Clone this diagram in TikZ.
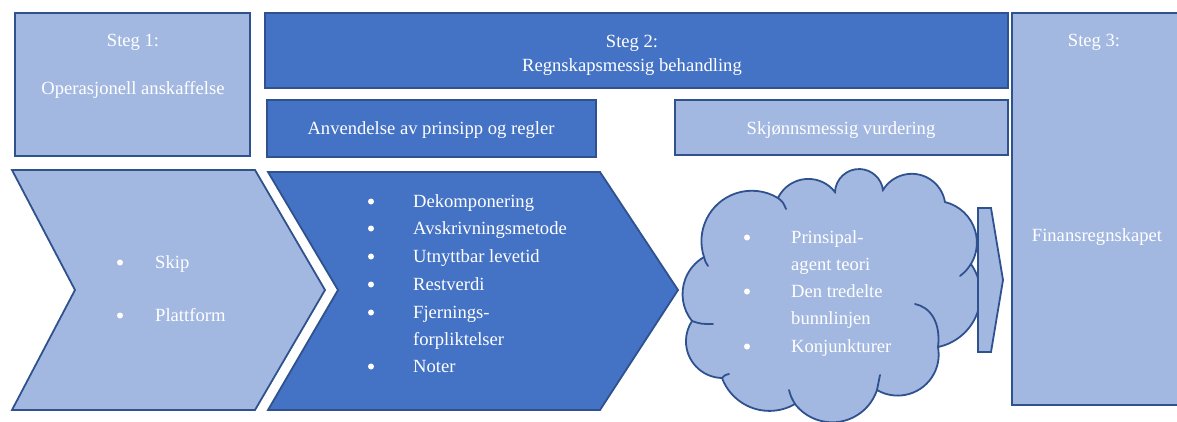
\documentclass[tikz,border=0pt]{standalone}
\usepackage{fontspec}
\setmainfont{Liberation Serif}
\definecolor{darkfill}{HTML}{4472C4}
\definecolor{lightfill}{HTML}{A2B8E1}
\definecolor{edgecol}{HTML}{2F528F}
\begin{document}
\begin{tikzpicture}[x=1pt,y=-1pt,
  lbl/.style={text=white,font=\fontsize{18.6}{24}\selectfont,inner sep=0pt},
  dot/.style={circle,fill=white,inner sep=0pt,minimum size=6pt},
  darkbox/.style={fill=darkfill,draw=edgecol,line width=1.8pt},
  lightbox/.style={fill=lightfill,draw=edgecol,line width=1.8pt},
  tail/.style={draw=edgecol,line width=1.8pt,line cap=round}]
\useasboundingbox (0,0) rectangle (1177,421);
% boxes
\draw[lightbox] (15,13) rectangle (250,156);
\draw[darkbox] (265,13) rectangle (1008,88);
\draw[darkbox] (267,100) rectangle (596,157);
\draw[lightbox] (675,100) rectangle (1008,155);
\draw[lightbox] (1012,13) rectangle (1185,405);
% chevrons
\draw[lightbox,line join=miter] (12,170) -- (255,170) -- (325,290) -- (255,410) -- (12,410) -- (75,290) -- cycle;
\draw[darkbox,line join=miter] (268,172) -- (600,172) -- (678,290) -- (600,410) -- (268,410) -- (338,290) -- cycle;
% cloud: circular puffs between junction points (ax/ay -> bx/by, bulge h)
\foreach \ax/\ay/\bx/\by/\h/\n in {
  704/257/778/198/33/A, 778/198/835/192/16/B, 835/192/883/190/22/C,
  883/190/945/202/22/D, 945/202/971/264/17/E, 971/264/938/347/24/F,
  938/347/877/390/24/G, 877/390/795/404/25/H, 795/404/722/378/18/I,
  722/378/692/321/19/K, 692/321/704/257/15/L}{
  \pgfmathsetmacro\ddx{\bx-\ax}
  \pgfmathsetmacro\ddy{\by-\ay}
  \pgfmathsetmacro\hc{veclen(\ddx,\ddy)/2}
  \pgfmathsetmacro\rr{(\hc*\hc+\h*\h)/(2*\h)}
  \pgfmathsetmacro\tn{atan2(-\ddx,\ddy)}
  \pgfmathsetmacro\ps{acos((\rr-\h)/\rr)}
  \pgfmathsetmacro\sa{\tn-\ps}
  \pgfmathsetmacro\ea{\tn+\ps}
  \expandafter\xdef\csname pS\n\endcsname{\sa}
  \expandafter\xdef\csname pE\n\endcsname{\ea}
  \expandafter\xdef\csname pR\n\endcsname{\rr}
}
\coordinate (J1) at (704,257);
\draw[lightbox] (J1)
  arc[start angle=\pSA, end angle=\pEA, radius=\pRA]
  arc[start angle=\pSB, end angle=\pEB, radius=\pRB]
  arc[start angle=\pSC, end angle=\pEC, radius=\pRC]
  arc[start angle=\pSD, end angle=\pED, radius=\pRD]
  arc[start angle=\pSE, end angle=\pEE, radius=\pRE]
  arc[start angle=\pSF, end angle=\pEF, radius=\pRF]
  arc[start angle=\pSG, end angle=\pEG, radius=\pRG]
  arc[start angle=\pSH, end angle=\pEH, radius=\pRH]
  arc[start angle=\pSI, end angle=\pEI, radius=\pRI]
  arc[start angle=\pSK, end angle=\pEK, radius=\pRK]
  arc[start angle=\pSL, end angle=\pEL, radius=\pRL] -- cycle;
% inner arcs of the cloud
\coordinate (J2) at (778,198);
\coordinate (J6) at (971,264);
\coordinate (J7) at (938,347);
\coordinate (J8) at (877,390);
\coordinate (J9) at (795,404);
\coordinate (J10) at (722,378);
\coordinate (J11) at (692,321);
\coordinate (T1) at (708,266);
\coordinate (T2) at (786,209);
\coordinate (T6) at (960,276);
\coordinate (T7) at (915,304);
\coordinate (T8) at (880,375);
\coordinate (T9) at (789,390);
\coordinate (T10) at (729,374);
\coordinate (T11) at (713,324);
\draw[tail] (J1) .. controls (705,261) .. (T1);
\draw[tail] (J2) .. controls (783,202) .. (T2);
\draw[tail] (J6) .. controls (966,271) .. (T6);
\draw[tail] (J7) .. controls (941,322) and (930,307) .. (T7);
\draw[tail] (J8) .. controls (879,382) .. (T8);
\draw[tail] (J9) .. controls (791,397) .. (T9);
\draw[tail] (J10) .. controls (725,375) .. (T10);
\draw[tail] (J11) .. controls (701,324) .. (T11);
% small arrow
\draw[lightbox,line join=miter] (978,208) -- (991,208) -- (1003,280) -- (991,352) -- (978,352) -- cycle;
% texts
\node[lbl] (s1a) at (133,42) {Steg 1:};
\node[lbl] (s1b) at (133,90) {Operasjonell anskaffelse};
\node[lbl,align=center] (s2) at (632,55) {Steg 2:\\Regnskapsmessig behandling};
\node[lbl] (anv) at (431,130) {Anvendelse av prinsipp og regler};
\node[lbl] (skj) at (841,130) {Skjønnsmessig vurdering};
\node[lbl] (s3) at (1094,42) {Steg 3:};
\node[lbl] (fin) at (1097,237) {Finansregnskapet};
% list 1
\foreach \y/\t [count=\i] in {268/Skip,321/Plattform}{
  \node[lbl,anchor=base west] (t1\i) at (155,\y) {\t};
  \node[dot] (b1\i) at (120,\y-5.5) {};
}
% list 2
\foreach \y/\t/\b [count=\i] in {207/Dekomponering/1,234/Avskrivningsmetode/1,262/Utnyttbar levetid/1,290/Restverdi/1,318/Fjernings-/1,345/forpliktelser/0,372/Noter/1}{
  \node[lbl,anchor=base west] (t2\i) at (413,\y) {\t};
  \ifnum\b=1 \node[dot] (b2\i) at (371,\y-5.5) {};\fi
}
% list 3
\foreach \y/\t/\b [count=\i] in {243/Prinsipal-/1,270/agent teori/0,297/Den tredelte/1,324/bunnlinjen/0,352/Konjunkturer/1}{
  \node[lbl,anchor=base west] (t3\i) at (791,\y) {\t};
  \ifnum\b=1 \node[dot] (b3\i) at (747,\y-5.5) {};\fi
}
\end{tikzpicture}
\end{document}
